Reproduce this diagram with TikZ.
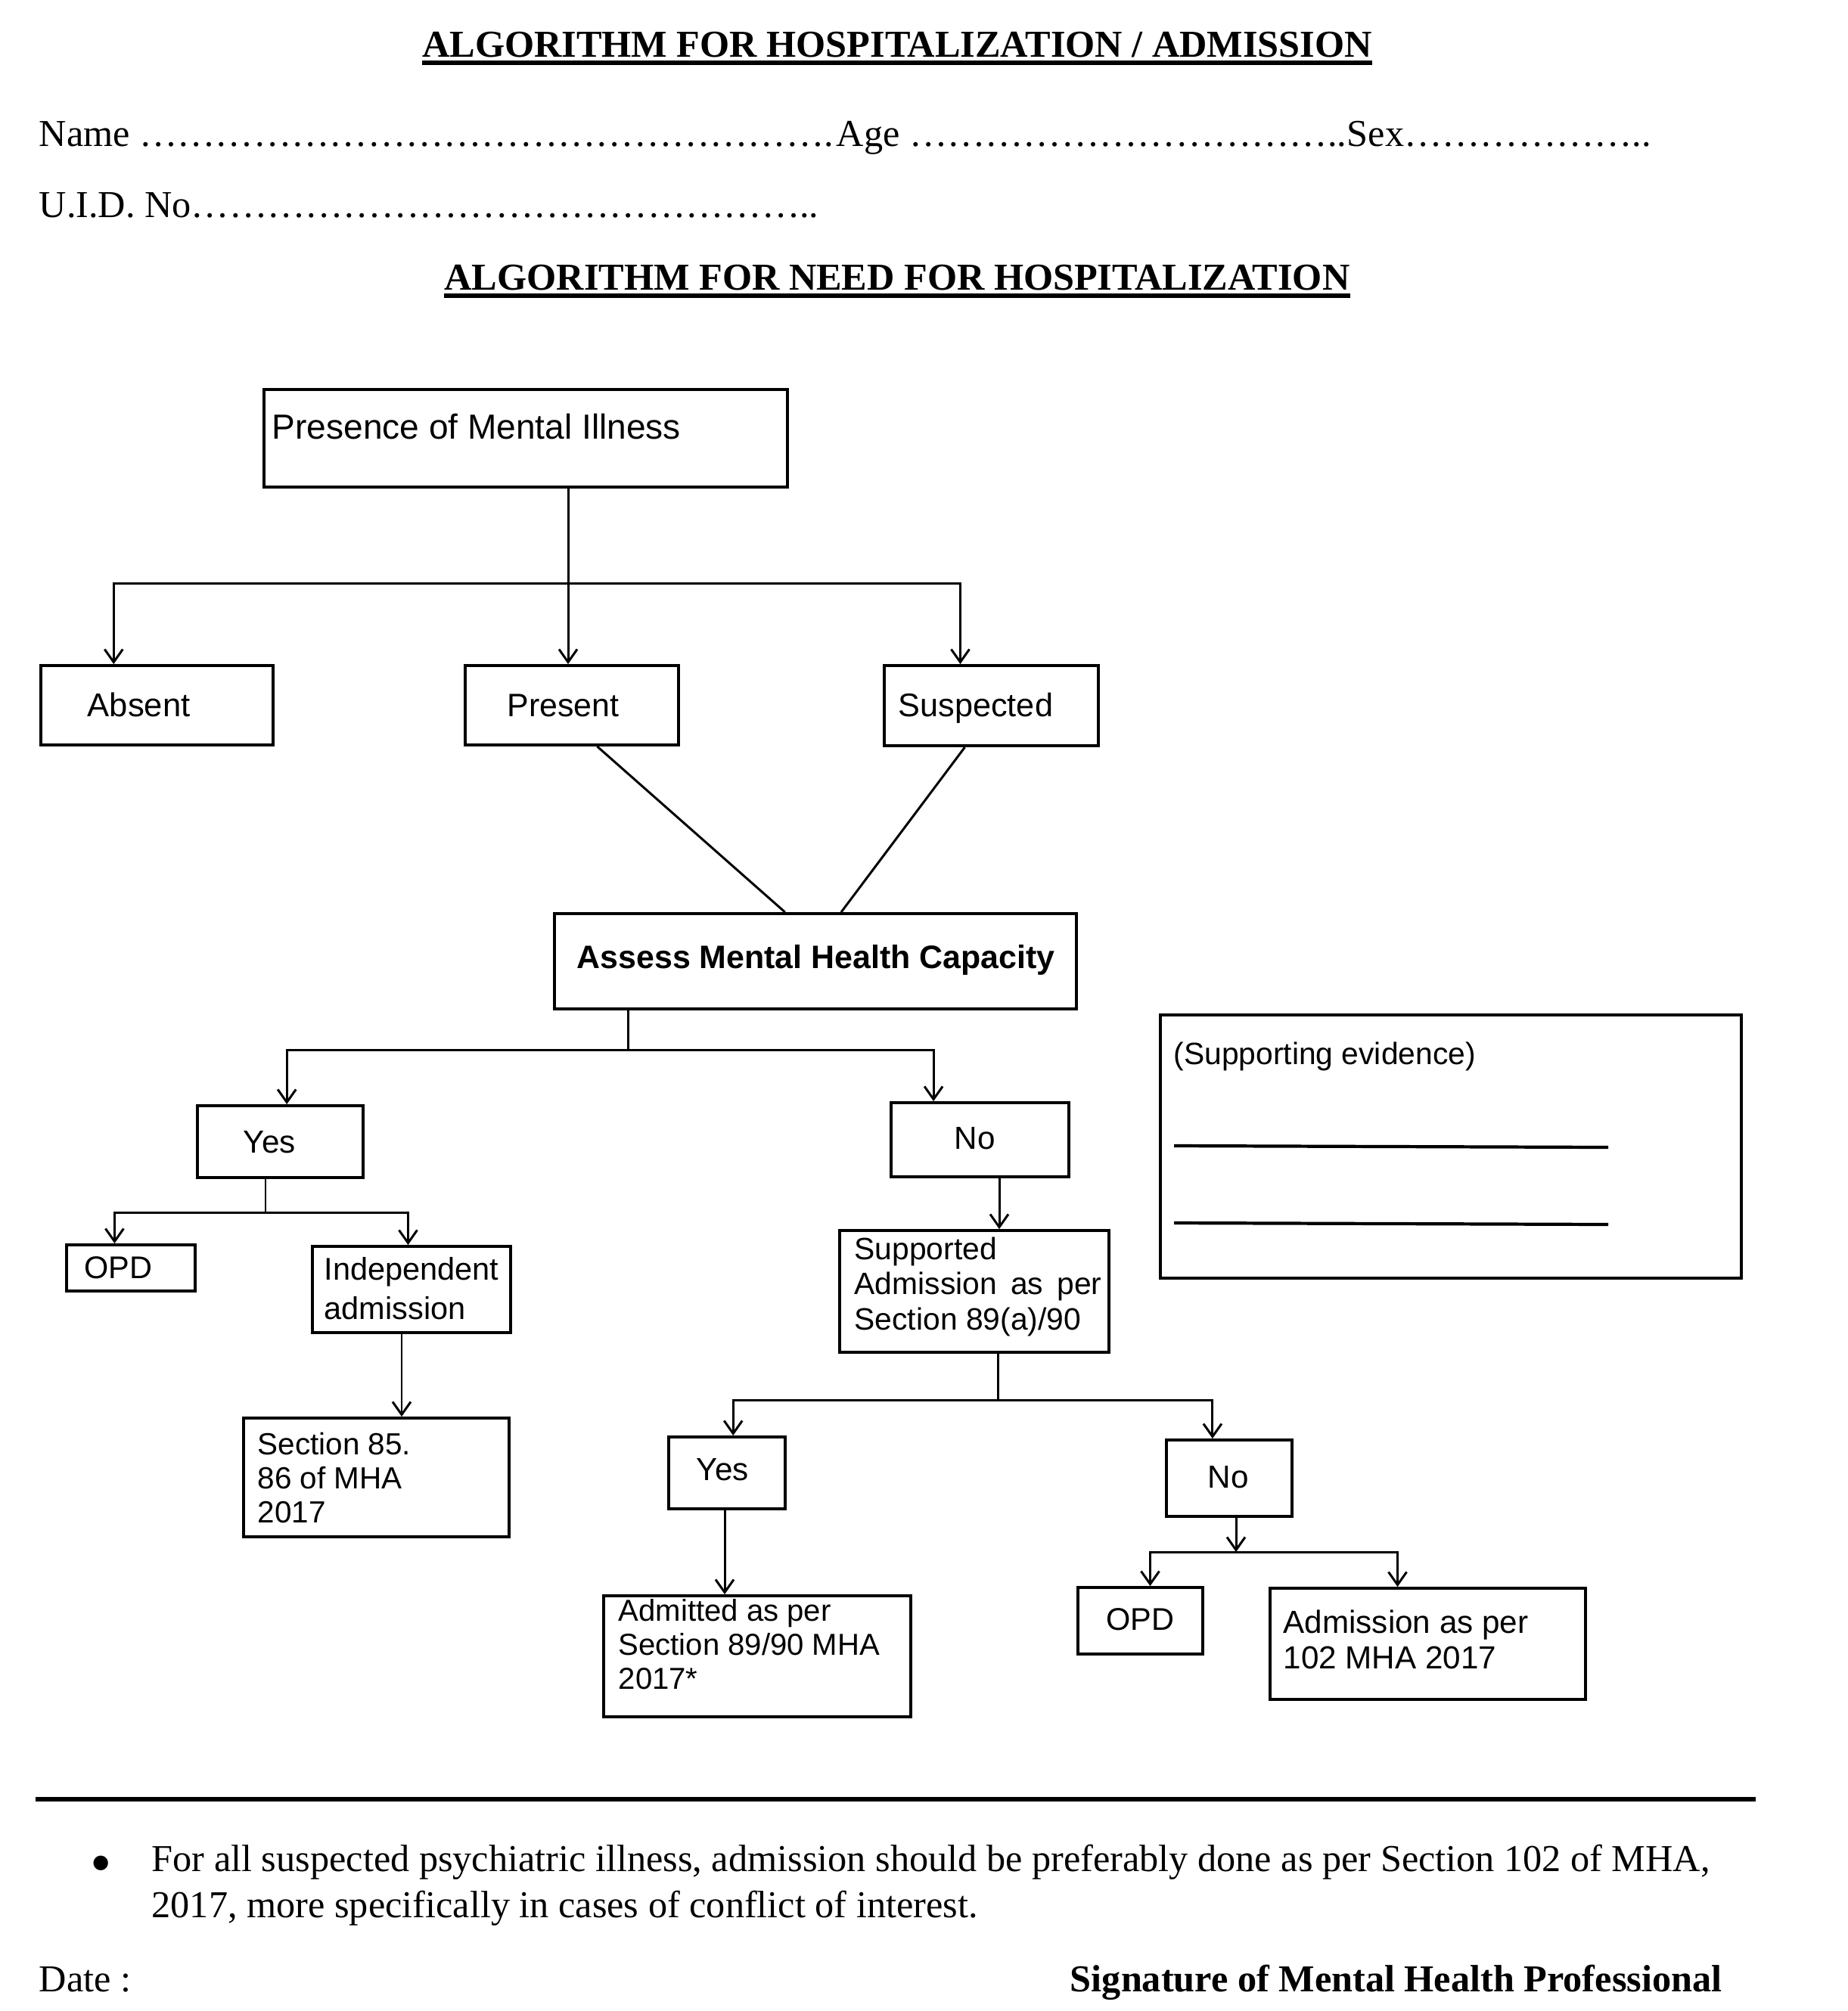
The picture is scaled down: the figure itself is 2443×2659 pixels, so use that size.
\documentclass[tikz,border=0pt]{standalone}
\usepackage{fontspec}
\setmainfont{Liberation Serif}
\setsansfont{Liberation Sans}
\usetikzlibrary{arrows.meta,fit,calc}
\newcount\myellcnt
\newcommand{\myellip}[1]{\myellcnt=0 \loop\ifnum\myellcnt<#1\relax …\advance\myellcnt by 1\relax\repeat}
\begin{document}
\begin{tikzpicture}[x=0.01cm,y=-0.01cm,
  box/.style={draw, line width=1.1pt, inner sep=0pt},
  conn/.style={line width=0.85pt},
  arr/.style={conn, -{Straight Barb[length=1.7mm,width=2.4mm]}},
  serif/.style={inner sep=0pt, font=\fontsize{14.3}{17}\selectfont},
  serifb/.style={inner sep=0pt, font=\bfseries\fontsize{14.3}{17}\selectfont},
  lbl/.style 2 args={inner sep=0pt, align=left, font=\sffamily\fontsize{#1}{#2}\selectfont},
  lblb/.style={inner sep=0pt, font=\sffamily\bfseries\fontsize{#1}{#1}\selectfont},
  uline/.style={line width=1.5pt},
  evline/.style={line width=1.2pt}]
\fill[white] (0,0) rectangle (2443,2659);
\path[use as bounding box] (0,0) rectangle (2443,2659);

% header
\node[serifb, anchor=base] (t1) at (1186,75) {ALGORITHM FOR HOSPITALIZATION / ADMISSION};
\draw[uline] ($(t1.base west)+(0,8)$) -- ($(t1.base east)+(0,8)$);
\node[serif, anchor=base west] (nm) at (51,193) {Name \myellip{18}.};
\node[serif, anchor=base west] (ag) at (1105,193) {Age \myellip{11}..};
\node[serif, anchor=base west] (sx) at (1780,193) {Sex\myellip{6}..};
\node[serif, anchor=base west] (uid) at (51,287) {U.I.D. No\myellip{16}..};
\node[serifb, anchor=base] (t2) at (1186,383) {ALGORITHM FOR NEED FOR HOSPITALIZATION};
\draw[uline] ($(t2.base west)+(0,8)$) -- ($(t2.base east)+(0,8)$);

% boxes
\node[box, fit={(349,515)(1041,644)}] (presence) {};
\node[box, fit={(54,880)(361,985)}] (absent) {};
\node[box, fit={(615,880)(897,985)}] (present) {};
\node[box, fit={(1169,880)(1452,986)}] (suspected) {};
\node[box, fit={(733,1208)(1423,1334)}] (assess) {};
\node[box, fit={(261,1462)(480,1557)}] (yes1) {};
\node[box, fit={(1178,1458)(1413,1556)}] (no1) {};
\node[box, fit={(88,1646)(258,1707)}] (opd1) {};
\node[box, fit={(413,1648)(675,1762)}] (indep) {};
\node[box, fit={(322,1875)(673,2032)}] (sec85) {};
\node[box, fit={(1110,1627)(1466,1788)}] (supported) {};
\node[box, fit={(1534,1342)(2302,1690)}] (evid) {};
\node[box, fit={(884,1900)(1038,1995)}] (yes2) {};
\node[box, fit={(1542,1904)(1708,2005)}] (no2) {};
\node[box, fit={(798,2110)(1204,2270)}] (admitted) {};
\node[box, fit={(1425,2099)(1590,2187)}] (opd2) {};
\node[box, fit={(1679,2100)(2096,2247)}] (adm2) {};

% texts
\node[lbl={13.1}{15}, anchor=base west] (presence-t) at (359,580) {Presence of Mental Illness};
\node[lbl={12.4}{14}, anchor=base west] (absent-t) at (115,947) {Absent};
\node[lbl={12.2}{14}, anchor=base west] (present-t) at (670,947) {Present};
\node[lbl={12.3}{14}, anchor=base west] (suspected-t) at (1187,947) {Suspected};
\node[lblb={12.2}, anchor=base west] (assess-t) at (762,1280) {Assess Mental Health Capacity};
\node[lbl={12}{14}, anchor=base west] (yes1-t) at (321,1524) {Yes};
\node[lbl={12}{14}, anchor=base west] (no1-t) at (1261,1519) {No};
\node[lbl={11.8}{14}, anchor=base west] (opd1-t) at (111,1690) {OPD};
\node[lbl={11.8}{14.8}, anchor=north west] (indep-t) at (428,1662) {Independent\\admission};
\node[lbl={11.5}{12.9}, anchor=north west] (sec85-t) at (340,1893) {Section 85.\\86 of MHA\\2017};
\node[lbl={11.6}{13.2}, anchor=north west] (supported-t) at (1129,1635) {Supported\\Admission\hspace{0.45em}as\hspace{0.45em}per\\Section 89(a)/90};
\node[lbl={11.6}{14}, anchor=base west] (evid-t) at (1551,1407) {(Supporting evidence)};
\node[lbl={12}{14}, anchor=base west] (yes2-t) at (920,1957) {Yes};
\node[lbl={12}{14}, anchor=base west] (no2-t) at (1596,1967) {No};
\node[lbl={11.4}{12.8}, anchor=north west] (admitted-t) at (817,2114) {Admitted as per\\Section 89/90 MHA\\2017*};
\node[lbl={11.8}{14}, anchor=base west] (opd2-t) at (1462,2155) {OPD};
\node[lbl={12}{13.4}, anchor=north west] (adm2-t) at (1696,2128) {Admission as per\\102 MHA 2017};

% evidence lines
\draw[evline] (1552,1515) -- (2126,1517);
\draw[evline] (1552,1617) -- (2126,1619);

% connectors
\coordinate (j0) at (751,771);
\draw[arr] (presence.south -| j0) -- (present.north -| j0);
\draw[arr] (j0) -| ($(absent.north west)!0.316!(absent.north east)$);
\draw[arr] (j0) -| ($(suspected.north west)!0.357!(suspected.north east)$);
\draw[conn] ($(present.south west)!0.617!(present.south east)$) -- ($(assess.north west)!0.442!(assess.north east)$);
\draw[conn] ($(suspected.south west)!0.378!(suspected.south east)$) -- ($(assess.north west)!0.549!(assess.north east)$);

\coordinate (j1) at (830,1388);
\draw[conn] (assess.south -| j1) -- (j1);
\draw[arr] (j1) -| ($(yes1.north west)!0.539!(yes1.north east)$);
\draw[arr] (j1) -| ($(no1.north west)!0.243!(no1.north east)$);

\coordinate (j2) at (351,1603);
\draw[conn] (yes1.south -| j2) -- (j2);
\draw[arr] (j2) -| ($(opd1.north west)!0.376!(opd1.north east)$);
\draw[arr] (j2) -| ($(indep.north west)!0.483!(indep.north east)$);

\coordinate (c1) at (531,1800);
\draw[arr] (indep.south -| c1) -- (sec85.north -| c1);
\coordinate (c2) at (1321,1600);
\draw[arr] (no1.south -| c2) -- (supported.north -| c2);

\coordinate (j3) at (1319,1851);
\draw[conn] (supported.south -| j3) -- (j3);
\draw[arr] (j3) -| ($(yes2.north west)!0.552!(yes2.north east)$);
\draw[arr] (j3) -| ($(no2.north west)!0.37!(no2.north east)$);

\coordinate (c3) at (958,2050);
\draw[arr] (yes2.south -| c3) -- (admitted.north -| c3);

\coordinate (j4) at (1634,2052);
\draw[arr] (no2.south -| j4) -- (j4);
\draw[arr] (j4) -| ($(opd2.north west)!0.577!(opd2.north east)$);
\draw[arr] (j4) -| ($(adm2.north west)!0.405!(adm2.north east)$);

% footer
\draw[line width=1.5pt] (47,2379) -- (2321,2379);
\node[inner sep=0pt, font=\fontsize{23}{23}\selectfont, anchor=base] (bul) at (134,2490) {•};
\node[serif, anchor=base west] (note1) at (200,2474) {For all suspected psychiatric illness, admission should be preferably done as per Section 102 of MHA,};
\node[serif, anchor=base west] (note2) at (200,2535) {2017, more specifically in cases of conflict of interest.};
\node[serif, anchor=base west] (date) at (51,2633) {Date :};
\node[serifb, anchor=base east] (sig) at (2277,2633) {Signature of Mental Health Professional};
\end{tikzpicture}
\end{document}
